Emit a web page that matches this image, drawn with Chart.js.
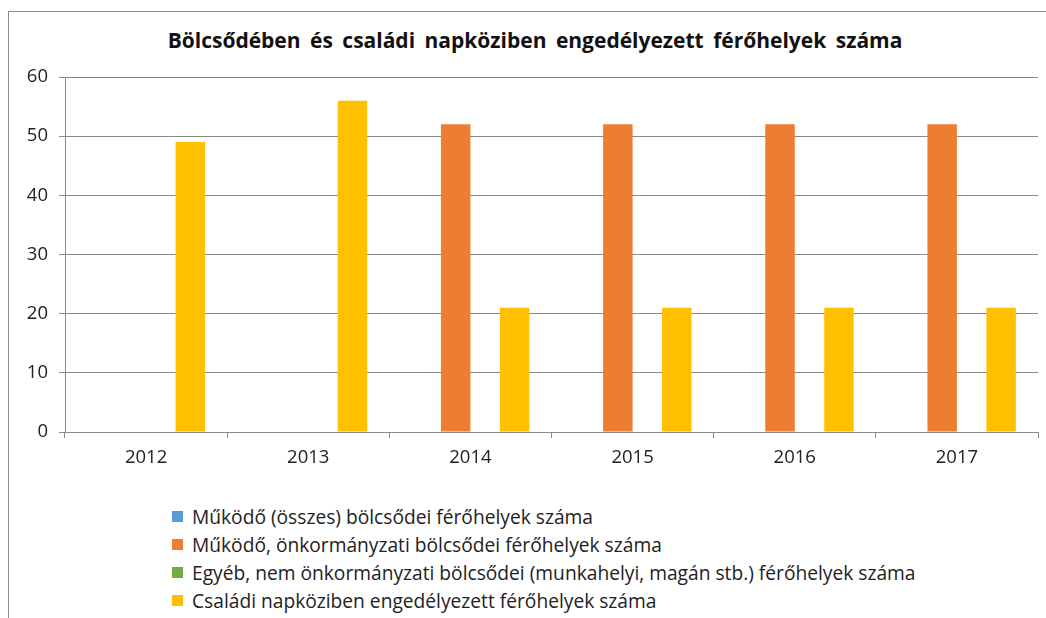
<!DOCTYPE html>
<html>
<head>
<meta charset="utf-8">
<script src="https://cdn.jsdelivr.net/npm/chart.js@4/dist/chart.umd.min.js"></script>
<style>
  html, body { margin: 0; padding: 0; background: #fff; overflow: hidden; }
  body { width: 1046px; height: 618px; position: relative; font-family: "Open Sans", sans-serif; }
  #frame { position: absolute; left: 8px; top: 11px; width: 1100px; height: 700px; border: 1px solid #8c8c8c; box-sizing: border-box; }
  #title { position: absolute; left: 0; width: 1070px; top: 26px; text-align: center; font-weight: bold; font-size: 21px; color: #111; word-spacing: 4px; }
  #wrap { position: absolute; left: 0; top: 0; width: 1046px; height: 480px; }
  #legend { position: absolute; left: 172px; top: 502px; font-size: 19.2px; color: #222; }
  #legend div { display: flex; align-items: center; height: 28px; }
  #legend span.box { width: 11px; height: 11px; margin-right: 9px; display: inline-block; }
</style>
</head>
<body>
<div id="frame"></div>
<div id="title">Bölcsődében és családi napköziben engedélyezett férőhelyek száma</div>
<div id="wrap"><canvas id="chart"></canvas></div>
<div id="legend"></div>
<script>
// Years on the x axis
const years = ['2012', '2013', '2014', '2015', '2016', '2017'];

// Series names (legend)
const seriesNames = [
  'Működő (összes) bölcsődei férőhelyek száma',
  'Működő, önkormányzati bölcsődei férőhelyek száma',
  'Egyéb, nem önkormányzati bölcsődei (munkahelyi, magán stb.) férőhelyek száma',
  'Családi napköziben engedélyezett férőhelyek száma'
];

// Values per series (blank where no bar is shown)
const osszes = [null, null, null, null, null, null];
const onkormanyzati = [null, null, 52, 52, 52, 52];
const egyeb = [null, null, null, null, null, null];
const csaladi = [49, 56, 21, 21, 21, 21];

const colors = ['#5B9BD5', '#ED7D31', '#70AD47', '#FFC000'];
const seriesValues = [osszes, onkormanyzati, egyeb, csaladi];

const gridColor = '#8a8a8a';

new Chart(document.getElementById('chart'), {
  type: 'bar',
  data: {
    labels: years,
    datasets: seriesValues.map((vals, i) => ({
      label: seriesNames[i],
      data: vals,
      backgroundColor: colors[i],
      borderWidth: 0,
      categoryPercentage: 0.727,
      barPercentage: 1.0
    }))
  },
  options: {
    responsive: true,
    maintainAspectRatio: false,
    animation: false,
    layout: { padding: { left: 0, right: 8, top: 77, bottom: 8 } },
    plugins: {
      legend: { display: false },
      tooltip: { enabled: false }
    },
    scales: {
      x: {
        grid: { display: true, offset: true, drawOnChartArea: false, tickLength: 6, color: gridColor },
        border: { color: gridColor },
        ticks: { color: '#222', font: { family: 'Open Sans', size: 18.5 }, padding: 9 },
        afterFit: s => { s.height = 40; }
      },
      y: {
        min: 0,
        max: 60,
        ticks: { stepSize: 10, color: '#222', font: { family: 'Open Sans', size: 18.5 }, padding: 11 },
        grid: { color: gridColor, tickLength: 6 },
        border: { color: gridColor },
        afterFit: s => { s.width = 65; }
      }
    }
  }
});

// Vertical legend below the chart
const legend = document.getElementById('legend');
seriesNames.forEach((name, i) => {
  const row = document.createElement('div');
  const box = document.createElement('span');
  box.className = 'box';
  box.style.background = colors[i];
  row.appendChild(box);
  row.appendChild(document.createTextNode(name));
  legend.appendChild(row);
});
</script>
</body>
</html>
